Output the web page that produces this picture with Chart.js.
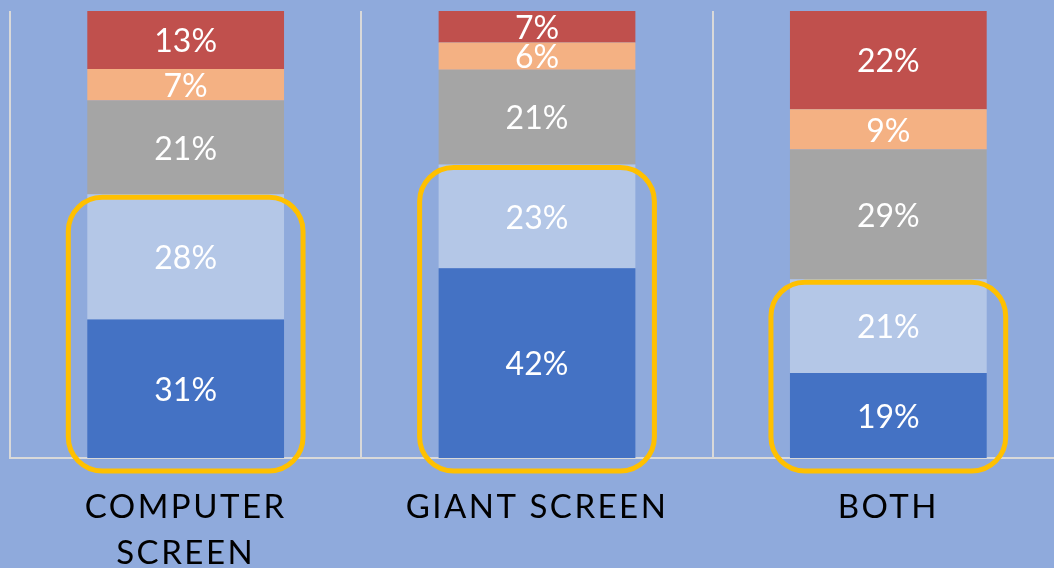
<!DOCTYPE html>
<html>
<head>
<meta charset="utf-8">
<script src="https://cdn.jsdelivr.net/npm/chart.js@4/dist/chart.umd.min.js"></script>
<style>
  html, body { margin: 0; padding: 0; background: #8faadc; overflow: hidden; }
  #wrap { width: 1064px; height: 568px; }
</style>
</head>
<body>
<div id="wrap"><canvas id="c" width="1064" height="568"></canvas></div>
<script>
// Categories (x axis labels)
const categories = [["COMPUTER", "SCREEN"], "GIANT SCREEN", "BOTH"];

// Series values (percent), bottom to top
const seriesNames = ["Series 1", "Series 2", "Series 3", "Series 4", "Series 5"];
const series1 = [31, 42, 19];
const series2 = [28, 23, 21];
const series3 = [21, 21, 29];
const series4 = [7, 6, 9];
const series5 = [13, 7, 22];

const allSeries = [series1, series2, series3, series4, series5];
const colors = ["#4472c4", "#b4c7e7", "#a5a5a5", "#f4b183", "#c0504d"];

// 100% stacked: normalise each category to its total
const totals = categories.map((_, i) => allSeries.reduce((s, arr) => s + arr[i], 0));

Chart.defaults.font.family = "Lato, 'Open Sans', sans-serif";

const datasets = allSeries.map((arr, k) => ({
  label: seriesNames[k],
  data: arr.map((v, i) => v / totals[i] * 100),
  raw: arr,
  backgroundColor: colors[k],
  borderWidth: 0,
  categoryPercentage: 1.0,
  barPercentage: 0.56
}));

const letterSpacingPlugin = {
  id: 'letterSpacing',
  beforeDraw(chart) { chart.ctx.letterSpacing = '2.5px'; },
  beforeDatasetsDraw(chart) { chart.ctx.letterSpacing = '0px'; }
};

const labelsAndHighlight = {
  id: 'labelsAndHighlight',
  afterDatasetsDraw(chart) {
    const ctx = chart.ctx;
    ctx.save();
    ctx.letterSpacing = '0px';
    ctx.fillStyle = '#ffffff';
    ctx.font = "32px Lato, 'Open Sans', sans-serif";
    ctx.textAlign = 'center';
    ctx.textBaseline = 'middle';
    chart.data.datasets.forEach((ds, k) => {
      const meta = chart.getDatasetMeta(k);
      meta.data.forEach((el, i) => {
        const y = (el.y + el.base) / 2;
        ctx.fillText(ds.raw[i] + '%', el.x, y + 2);
      });
    });
    // highlight rounded rectangles around the two bottom segments
    const m1 = chart.getDatasetMeta(1);
    ctx.strokeStyle = '#ffc000';
    ctx.lineWidth = 5;
    m1.data.forEach((el) => {
      const half = el.width / 2;
      const x0 = el.x - half - 19;
      const x1 = el.x + half + 19;
      const y0 = el.y + 3;
      const y1 = chart.chartArea.bottom + 13;
      ctx.beginPath();
      ctx.roundRect(x0, y0, x1 - x0, y1 - y0, 34);
      ctx.stroke();
    });
    ctx.restore();
  }
};

new Chart(document.getElementById('c'), {
  type: 'bar',
  data: { labels: categories, datasets },
  options: {
    responsive: false,
    animation: false,
    devicePixelRatio: 1,
    layout: { padding: { left: 10, top: 11, right: 0, bottom: 0 } },
    plugins: { legend: { display: false }, tooltip: { enabled: false } },
    scales: {
      x: {
        stacked: true,
        grid: { offset: true, color: '#d9d9d9', lineWidth: 2, drawTicks: false },
        border: { color: '#d9d9d9', width: 2 },
        ticks: {
          color: '#000000',
          font: { size: 33, lineHeight: 1.4 },
          padding: 26,
          maxRotation: 0,
          autoSkip: false
        },
        afterFit(scale) { scale.height = 110; }
      },
      y: { stacked: true, display: false, min: 0, max: 100 }
    }
  },
  plugins: [letterSpacingPlugin, labelsAndHighlight]
});
</script>
</body>
</html>
